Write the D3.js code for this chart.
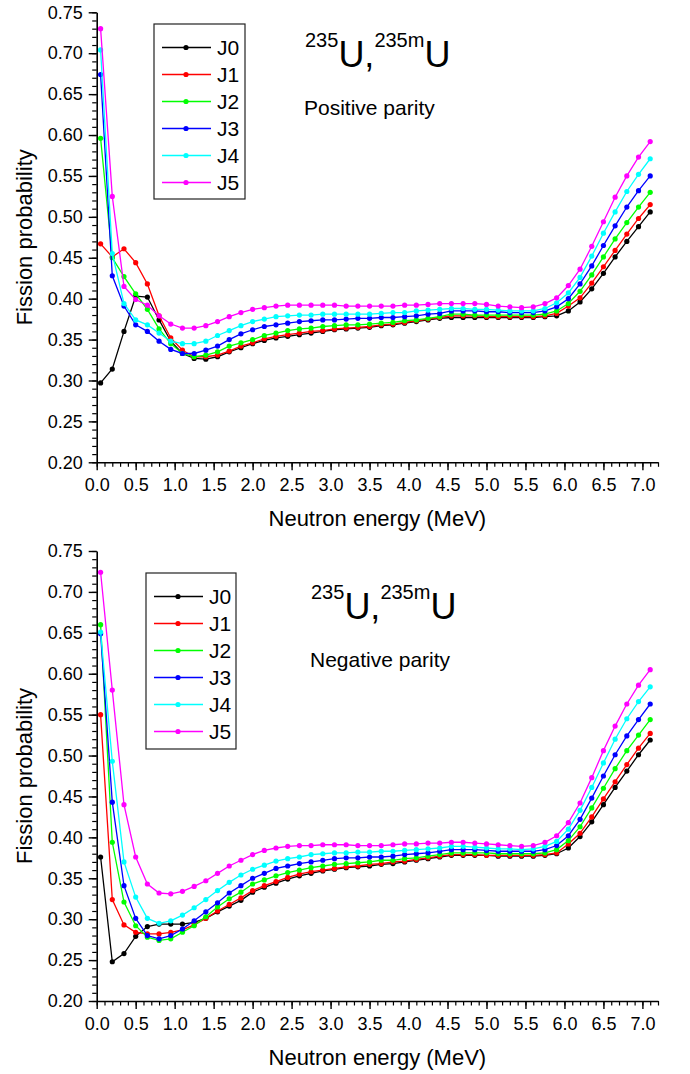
<!DOCTYPE html>
<html>
<head>
<meta charset="utf-8">
<script src="https://cdn.jsdelivr.net/npm/d3@7"></script>
<style>
  body { margin: 0; background: #fff; }
  svg { display: block; font-family: "Liberation Sans", Arial, sans-serif; }
  .axis path, .axis line { stroke: #000; }
  .axis text { font-size: 18px; fill: #000; font-family: "Liberation Sans", Arial, sans-serif; }
</style>
</head>
<body>
<svg width="690" height="1074"></svg>
<script>
// neutron energy grid (MeV)
var energy = [0.05, 0.20, 0.35, 0.50, 0.65, 0.80, 0.95, 1.10, 1.25, 1.40, 1.55, 1.70, 1.85,
  2.00, 2.15, 2.30, 2.45, 2.60, 2.75, 2.90, 3.05, 3.20, 3.35, 3.50, 3.65, 3.80, 3.95, 4.10, 4.25, 4.40,
  4.55, 4.70, 4.85, 5.00, 5.15, 5.30, 5.45, 5.60, 5.75, 5.90, 6.05, 6.20, 6.35, 6.50, 6.65, 6.80, 6.95, 7.10];

var seriesNames = ["J0", "J1", "J2", "J3", "J4", "J5"];

// positive parity
var posJ0 = [0.297,0.314,0.360,0.403,0.402,0.374,0.348,0.333,0.327,0.326,0.329,0.335,0.340,
  0.345,0.349,0.352,0.354,0.356,0.358,0.360,0.362,0.363,0.364,0.365,0.367,0.368,0.370,0.372,0.374,0.376,
  0.377,0.377,0.377,0.377,0.377,0.377,0.377,0.377,0.378,0.379,0.385,0.396,0.412,0.431,0.451,0.470,0.488,0.506];
var posJ1 = [0.467,0.451,0.461,0.444,0.418,0.379,0.352,0.337,0.329,0.329,0.331,0.336,0.342,
  0.346,0.351,0.354,0.356,0.358,0.360,0.361,0.363,0.364,0.365,0.366,0.368,0.369,0.371,0.373,0.375,0.377,
  0.379,0.379,0.379,0.378,0.378,0.378,0.378,0.378,0.379,0.382,0.391,0.401,0.419,0.439,0.459,0.479,0.498,0.515];
var posJ2 = [0.596,0.450,0.427,0.406,0.387,0.363,0.345,0.333,0.329,0.331,0.335,0.342,0.346,
  0.350,0.355,0.358,0.361,0.363,0.364,0.366,0.367,0.368,0.368,0.369,0.370,0.371,0.373,0.374,0.376,0.378,
  0.381,0.381,0.380,0.380,0.380,0.380,0.380,0.380,0.381,0.385,0.394,0.409,0.429,0.451,0.473,0.493,0.512,0.530];
var posJ3 = [0.674,0.428,0.391,0.368,0.360,0.348,0.338,0.333,0.333,0.337,0.342,0.350,0.357,
  0.362,0.366,0.368,0.370,0.372,0.373,0.374,0.374,0.375,0.376,0.376,0.377,0.377,0.378,0.379,0.381,0.382,
  0.385,0.385,0.385,0.384,0.384,0.383,0.383,0.383,0.385,0.390,0.400,0.418,0.440,0.465,0.489,0.512,0.532,0.550];
var posJ4 = [0.704,0.455,0.394,0.374,0.368,0.358,0.348,0.345,0.345,0.348,0.355,0.361,0.367,
  0.372,0.375,0.378,0.379,0.380,0.380,0.381,0.381,0.381,0.381,0.381,0.382,0.383,0.383,0.385,0.386,0.387,
  0.388,0.388,0.387,0.387,0.386,0.385,0.385,0.385,0.388,0.395,0.407,0.426,0.452,0.480,0.506,0.531,0.552,0.571];
var posJ5 = [0.730,0.525,0.415,0.399,0.392,0.379,0.369,0.364,0.364,0.367,0.372,0.378,0.383,
  0.387,0.389,0.391,0.392,0.392,0.392,0.392,0.392,0.391,0.391,0.391,0.391,0.391,0.392,0.392,0.393,0.394,
  0.394,0.394,0.394,0.393,0.391,0.390,0.389,0.390,0.394,0.401,0.416,0.436,0.464,0.494,0.524,0.550,0.573,0.592];

// negative parity
var negJ0 = [0.376,0.248,0.258,0.279,0.291,0.294,0.294,0.294,0.296,0.301,0.309,0.316,0.323,
  0.333,0.339,0.344,0.349,0.353,0.356,0.359,0.361,0.363,0.364,0.365,0.367,0.368,0.370,0.372,0.374,0.376,
  0.378,0.378,0.378,0.378,0.377,0.377,0.377,0.377,0.378,0.380,0.387,0.401,0.419,0.440,0.461,0.481,0.501,0.519];
var negJ1 = [0.550,0.324,0.293,0.284,0.282,0.282,0.284,0.287,0.293,0.301,0.310,0.318,0.326,
  0.335,0.341,0.346,0.351,0.355,0.358,0.360,0.362,0.364,0.365,0.367,0.368,0.370,0.371,0.373,0.375,0.377,
  0.379,0.379,0.379,0.378,0.378,0.378,0.378,0.378,0.379,0.381,0.392,0.405,0.425,0.447,0.468,0.489,0.509,0.527];
var negJ2 = [0.660,0.394,0.321,0.292,0.278,0.274,0.276,0.284,0.292,0.303,0.315,0.325,0.333,
  0.343,0.348,0.353,0.357,0.360,0.363,0.365,0.367,0.368,0.369,0.370,0.372,0.372,0.374,0.375,0.377,0.379,
  0.381,0.381,0.381,0.381,0.380,0.380,0.380,0.380,0.381,0.385,0.396,0.413,0.436,0.460,0.484,0.506,0.525,0.544];
var negJ3 = [0.649,0.443,0.341,0.301,0.280,0.276,0.280,0.288,0.298,0.309,0.320,0.332,0.341,
  0.350,0.356,0.362,0.365,0.368,0.370,0.372,0.374,0.375,0.375,0.376,0.376,0.377,0.379,0.380,0.381,0.383,
  0.385,0.385,0.385,0.384,0.383,0.383,0.383,0.383,0.385,0.390,0.402,0.422,0.448,0.475,0.501,0.524,0.544,0.563];
var negJ4 = [0.651,0.493,0.370,0.327,0.301,0.295,0.298,0.305,0.314,0.324,0.335,0.345,0.354,
  0.361,0.366,0.371,0.374,0.376,0.379,0.380,0.381,0.381,0.382,0.382,0.383,0.383,0.384,0.385,0.386,0.387,
  0.389,0.389,0.388,0.387,0.386,0.386,0.385,0.386,0.389,0.395,0.410,0.433,0.461,0.491,0.520,0.545,0.566,0.584];
var negJ5 = [0.724,0.580,0.440,0.376,0.343,0.332,0.331,0.334,0.340,0.347,0.356,0.365,0.372,
  0.379,0.384,0.387,0.389,0.390,0.390,0.391,0.391,0.391,0.390,0.390,0.390,0.391,0.392,0.392,0.393,0.393,
  0.394,0.394,0.393,0.392,0.391,0.390,0.389,0.390,0.394,0.402,0.418,0.442,0.473,0.506,0.536,0.563,0.586,0.605];

var xTickLabels = ["0.0","0.5","1.0","1.5","2.0","2.5","3.0","3.5","4.0","4.5","5.0","5.5","6.0","6.5","7.0"];
var yTickLabels = ["0.20","0.25","0.30","0.35","0.40","0.45","0.50","0.55","0.60","0.65","0.70","0.75"];

var colors = ["#000000", "#ff0000", "#00ff00", "#0000ff", "#00ffff", "#ff00ff"];

var svg = d3.select("svg");

// layout of the two stacked panels
var panels = [
  { top: 12.3, bottom: 462.3, series: [posJ0, posJ1, posJ2, posJ3, posJ4, posJ5],
    box: { x: 154, y: 24, w: 91, h: 175 }, noteX: 305, noteY: 67, parity: "Positive parity", parityY: 115 },
  { top: 551, bottom: 1001, series: [negJ0, negJ1, negJ2, negJ3, negJ4, negJ5],
    box: { x: 146, y: 573, w: 90, h: 176 }, noteX: 311, noteY: 619, parity: "Negative parity", parityY: 667 }
];

var x = d3.scaleLinear().domain([0, 7.2]).range([96.7, 658]);

panels.forEach(function(p) {
  var y = d3.scaleLinear().domain([0.2, 0.75]).range([p.bottom, p.top]);
  var g = svg.append("g");

  // minor ticks
  g.append("g").attr("class", "axis").attr("transform", "translate(0," + p.bottom + ")")
    .call(d3.axisBottom(x).tickValues(d3.range(0, 7.21, 0.1)).tickSize(4.5).tickFormat(""))
    .call(function(a) { a.select(".domain").remove(); a.selectAll("line").attr("stroke-width", 1.2); });
  g.append("g").attr("class", "axis").attr("transform", "translate(" + x(0) + ",0)")
    .call(d3.axisLeft(y).tickValues(d3.range(0.2, 0.7501, 0.01)).tickSize(4.5).tickFormat(""))
    .call(function(a) { a.select(".domain").remove(); a.selectAll("line").attr("stroke-width", 1.2); });

  // major ticks + labels
  g.append("g").attr("class", "axis").attr("transform", "translate(0," + p.bottom + ")")
    .call(d3.axisBottom(x).tickValues(xTickLabels.map(Number)).tickSize(8).tickSizeOuter(0)
      .tickPadding(8).tickFormat(function(d, i) { return xTickLabels[i]; }))
    .call(function(a) { a.select(".domain").attr("stroke-width", 1.6); a.selectAll("line").attr("stroke-width", 1.4); });
  g.append("g").attr("class", "axis").attr("transform", "translate(" + x(0) + ",0)")
    .call(d3.axisLeft(y).tickValues(yTickLabels.map(Number)).tickSize(8).tickSizeOuter(0)
      .tickPadding(6).tickFormat(function(d, i) { return yTickLabels[i]; }))
    .call(function(a) { a.select(".domain").attr("stroke-width", 1.6); a.selectAll("line").attr("stroke-width", 1.4); });

  // axis titles
  g.append("text").attr("x", (x.range()[0] + x.range()[1]) / 2).attr("y", p.bottom + 64)
    .attr("text-anchor", "middle").attr("font-size", 22).text("Neutron energy (MeV)");
  g.append("text").attr("transform", "translate(32," + (p.top + p.bottom) / 2 + ") rotate(-90)")
    .attr("text-anchor", "middle").attr("font-size", 22).text("Fission probability");

  // curves
  var line = d3.line().x(function(d, i) { return x(energy[i]); }).y(function(d) { return y(d); });
  p.series.forEach(function(vals, k) {
    g.append("path").datum(vals).attr("fill", "none").attr("stroke", colors[k])
      .attr("stroke-width", 1.3).attr("d", line);
    g.append("g").selectAll("circle").data(vals).join("circle")
      .attr("cx", function(d, i) { return x(energy[i]); })
      .attr("cy", function(d) { return y(d); })
      .attr("r", 2.6).attr("fill", colors[k]);
  });

  // legend
  var b = p.box;
  g.append("rect").attr("x", b.x).attr("y", b.y).attr("width", b.w).attr("height", b.h)
    .attr("fill", "#fff").attr("stroke", "#222").attr("stroke-width", 1.2);
  seriesNames.forEach(function(name, k) {
    var ry = b.y + 23.5 + k * 27;
    g.append("line").attr("x1", b.x + 8).attr("x2", b.x + 57).attr("y1", ry).attr("y2", ry)
      .attr("stroke", colors[k]).attr("stroke-width", 1.3);
    g.append("circle").attr("cx", b.x + 32).attr("cy", ry).attr("r", 2.6).attr("fill", colors[k]);
    g.append("text").attr("x", b.x + 63).attr("y", ry + 7.5).attr("font-size", 21).text(name);
  });

  // nuclide annotation
  var t = g.append("text").attr("x", p.noteX).attr("y", p.noteY);
  t.append("tspan").attr("font-size", 20).attr("dy", -20).text("235");
  t.append("tspan").attr("font-size", 36).attr("dy", 20).text("U,");
  t.append("tspan").attr("font-size", 20).attr("dy", -20).text("235m");
  t.append("tspan").attr("font-size", 36).attr("dy", 20).text("U");
  g.append("text").attr("x", p.noteX - 1).attr("y", p.parityY).attr("font-size", 21).text(p.parity);
});
</script>
</body>
</html>
